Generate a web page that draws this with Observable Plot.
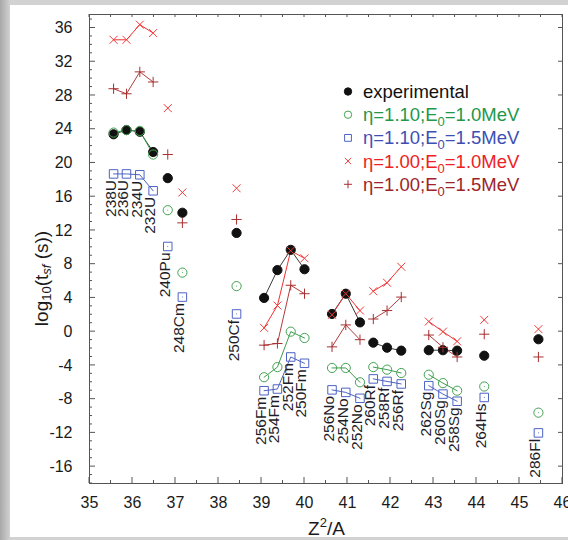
<!DOCTYPE html>
<html><head><meta charset="utf-8">
<script src="https://cdn.jsdelivr.net/npm/d3@7"></script>
<script src="https://cdn.jsdelivr.net/npm/@observablehq/plot@0.6"></script>
<style>
html,body{margin:0;padding:0;}
body{width:568px;height:540px;background:linear-gradient(to right,#a8a8a8,#d2d2d2 10px);overflow:hidden;position:relative;font-family:"Liberation Sans",Arial,sans-serif;}
#panel{position:absolute;left:10px;top:5px;width:558px;height:532px;background:#fff;}
#panel svg{position:absolute;left:0;top:0;overflow:visible;}
</style></head><body><div id="panel"></div>
<script>
// ---- data ----
const nuclei = ["238U","236U","234U","232U","240Pu","248Cm","250Cf","256Fm","254Fm","252Fm","250Fm","256No","254No","252No","260Rf","258Rf","256Rf","262Sg","260Sg","258Sg","264Hs","286Fl"];
const element = ["U","U","U","U","Pu","Cm","Cf","Fm","Fm","Fm","Fm","No","No","No","Rf","Rf","Rf","Sg","Sg","Sg","Hs","Fl"];
const z2a = [35.56,35.86,36.17,36.48,36.82,37.16,38.42,39.06,39.37,39.68,40.00,40.64,40.96,41.29,41.60,41.92,42.25,42.89,43.22,43.55,44.18,45.44];
const experimental = [23.4,23.9,23.7,21.3,18.2,14.1,11.7,4.0,7.3,9.7,7.4,2.1,4.5,1.1,-1.3,-1.9,-2.25,-2.2,-2.2,-2.25,-2.85,-0.9];
const eta110E10 = [23.6,23.9,23.8,21.0,14.4,7.0,5.4,-5.4,-4.2,0.0,-0.75,-4.3,-4.3,-6.0,-4.2,-4.5,-4.9,-5.1,-6.1,-7.0,-6.5,-9.6];
const eta110E15 = [18.7,18.7,18.6,16.7,10.1,4.1,2.1,-7.0,-6.8,-3.0,-3.75,-6.9,-7.2,-7.9,-5.6,-5.9,-6.2,-6.4,-7.4,-8.25,-7.8,-12.0];
const eta100E10 = [34.6,34.6,36.4,35.4,26.5,16.5,17.0,0.45,3.1,9.6,8.7,2.0,4.5,2.5,4.8,5.8,7.7,1.2,0.0,-1.15,1.4,0.3];
const eta100E15 = [28.8,28.2,30.8,29.6,21.0,12.9,13.3,-1.6,-1.4,5.5,4.5,-1.8,0.8,-0.95,1.5,2.5,4.1,-0.4,-1.85,-3.0,-0.3,-3.0];
const xTicks = [35,36,37,38,39,40,41,42,43,44,45,46];
const yTicks = [-16,-12,-8,-4,0,4,8,12,16,20,24,28,32,36];
const legendLabels = [
  ["experimental"],
  ["η=1.10;E", "0", "=1.0MeV"],
  ["η=1.10;E", "0", "=1.5MeV"],
  ["η=1.00;E", "0", "=1.0MeV"],
  ["η=1.00;E", "0", "=1.5MeV"]
];

// ---- styles ----
const series = [
  {values: experimental, symbol: "circle", stroke: "#111", fill: "#111", line: "#3a3a3a", r: 4.6, text: "#111"},
  {values: eta110E10, symbol: "circle", stroke: "#44a352", fill: "none", line: "#3d9e4c", r: 4.6, text: "#23974a"},
  {values: eta110E15, symbol: "square", stroke: "#4d63c4", fill: "none", line: "#4d63c4", r: 4.8, text: "#3d4fb3"},
  {values: eta100E10, symbol: "times", stroke: "#ef3b3b", fill: "none", line: "#f03030", r: 3.7, text: "#ee2222"},
  {values: eta100E15, symbol: "plus", stroke: "#a83030", fill: "none", line: "#b03c3c", r: 3.4, text: "#9e2429"}
];
const drawOrder = [0, 1, 2, 4, 3];

const rows = series.map(s => nuclei.map((n, i) => ({nucleus: n, el: element[i], x: z2a[i], v: s.values[i]})));
const labelRows = nuclei.map((n, i) => ({nucleus: n, x: z2a[i], v: d3.min(series, s => s.values[i])}));

const marks = [Plot.frame({stroke: "#555", strokeWidth: 1})];
for (const k of drawOrder) {
  const s = series[k];
  marks.push(Plot.line(rows[k], {x: "x", y: "v", z: "el", stroke: s.line, strokeWidth: 1}));
}
for (const k of drawOrder) {
  const s = series[k];
  marks.push(Plot.dot(rows[k], {x: "x", y: "v", symbol: s.symbol, r: s.r, stroke: s.stroke, fill: s.fill, strokeWidth: 1}));
}
marks.push(Plot.text(labelRows, {x: "x", y: "v", text: "nucleus", rotate: -90, textAnchor: "end", lineAnchor: "middle", dx: -3, dy: 6, fontSize: 15.5, fill: "#1d1d28"}));
marks.push(Plot.axisX({ticks: xTicks, tickSize: 0, tickPadding: 13, fontSize: 16, label: null, tickFormat: d => String(d), fill: "#1a1a1a"}));
marks.push(Plot.axisY({ticks: yTicks, tickSize: 0, tickPadding: 17, fontSize: 16, label: null, tickFormat: d => String(d), fill: "#1a1a1a"}));

const plot = Plot.plot({
  width: 558, height: 532,
  marginLeft: 79, marginRight: 6, marginTop: 9, marginBottom: 54,
  style: {background: "transparent", fontFamily: "'Liberation Sans', Arial, sans-serif", overflow: "visible"},
  x: {domain: [35, 46]},
  y: {domain: [-18, 37.6]},
  marks
});
document.getElementById("panel").appendChild(plot);

// ---- inward ticks on all sides (from Plot scales) ----
const sx = plot.scale("x"), sy = plot.scale("y");
const svg = d3.select(plot);
const xl = sx.apply(35), xr = sx.apply(46), yb = sy.apply(-18), yt = sy.apply(37.6);
const tg = svg.append("g").attr("stroke", "#555").attr("stroke-width", 1);
for (const v of d3.range(35, 46.001, 0.5)) {
  const px = sx.apply(v), major = Number.isInteger(v);
  tg.append("line").attr("x1", px).attr("x2", px).attr("y1", yb).attr("y2", yb - (major ? 6 : 3));
  tg.append("line").attr("x1", px).attr("x2", px).attr("y1", yt).attr("y2", yt + 3);
}
for (const v of d3.range(-18, 37.001, 1)) {
  const py = sy.apply(v), major = v % 4 === 0;
  tg.append("line").attr("y1", py).attr("y2", py).attr("x1", xl).attr("x2", xl + (major ? 6 : 3));
  if (major) tg.append("line").attr("y1", py).attr("y2", py).attr("x1", xr).attr("x2", xr - 4);
}

// ---- axis titles ----
const font = "'Liberation Sans', Arial, sans-serif";
const yl = svg.append("text").attr("transform", `translate(33,${(yt + yb) / 2 + 30}) rotate(-90)`)
  .attr("text-anchor", "middle").attr("dominant-baseline", "middle").attr("font-family", font).attr("font-size", 19).attr("fill", "#1a1a1a")
  .style("white-space", "pre");
yl.append("tspan").text("log");
yl.append("tspan").attr("font-size", 13).attr("dy", 5).text("10");
yl.append("tspan").attr("dy", -5).text("(t");
yl.append("tspan").attr("font-size", 13).attr("dy", 5).attr("font-style", "italic").text("sf");
yl.append("tspan").attr("dy", -5).text("\u00a0(s))");

const xlab = svg.append("text").attr("x", (xl + xr) / 2 + 1).attr("y", 530)
  .attr("text-anchor", "middle").attr("font-family", font).attr("font-size", 19).attr("fill", "#1a1a1a");
xlab.append("tspan").text("Z");
xlab.append("tspan").attr("font-size", 13).attr("dy", -8).text("2");
xlab.append("tspan").attr("dy", 8).text("/A");

// ---- legend ----
const lg = svg.append("g").attr("font-family", font).attr("font-size", 18.5).attr("text-anchor", "start");
const symMap = {circle: d3.symbolCircle, square: d3.symbolSquare, times: d3.symbolTimes, plus: d3.symbolPlus};
legendLabels.forEach((lab, i) => {
  const s = series[i];
  const cy = 86.5 + i * 23.2;
  const sz = Math.PI * (s.r * 0.8) ** 2;
  lg.append("path").attr("transform", `translate(338,${cy})`).attr("d", d3.symbol(symMap[s.symbol], sz)())
    .attr("fill", s.fill).attr("stroke", s.stroke).attr("stroke-width", 1);
  const t = lg.append("text").attr("x", 353).attr("y", cy + 6.5).attr("fill", s.text).attr("text-anchor", "start");
  t.append("tspan").text(lab[0]);
  if (lab.length > 2) {
    t.append("tspan").attr("font-size", 13).attr("dy", 5).text(lab[1]);
    t.append("tspan").attr("dy", -5).text(lab[2]);
  }
});
</script></body></html>
